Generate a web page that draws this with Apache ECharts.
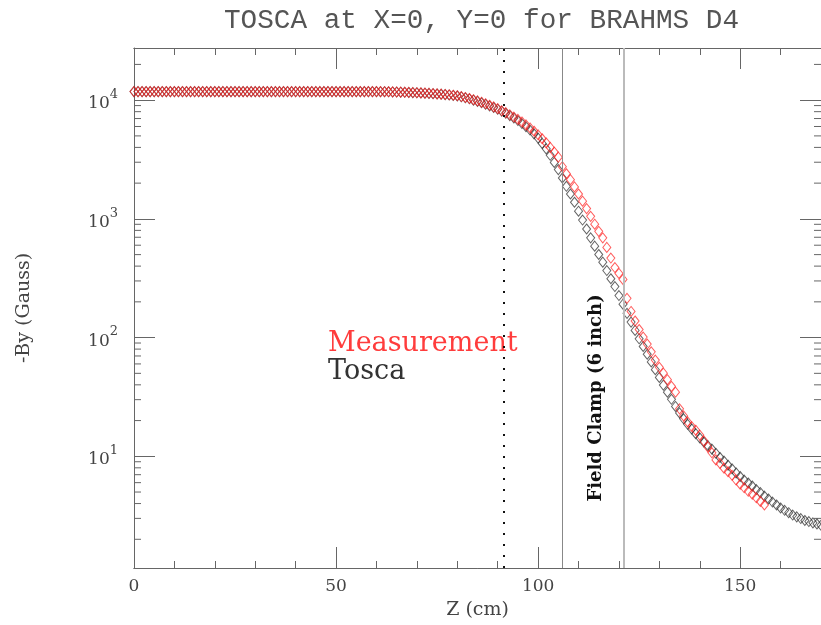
<!DOCTYPE html>
<html><head><meta charset="utf-8">
<script src="https://cdn.jsdelivr.net/npm/echarts@6/dist/echarts.min.js"></script>
<style>html,body{margin:0;padding:0;background:#fff}#c{width:821px;height:625px}</style>
</head><body><div id="c"></div>
<script>
// ---- data ----
const titleText = 'TOSCA at X=0, Y=0 for BRAHMS D4';
const xName = 'Z (cm)';
const yName = '-By (Gauss)';
const yMajorTicks = [10, 100, 1000, 10000];
const yMinorTicks = [2,3,4,5,6,7,8,9, 20,30,40,50,60,70,80,90, 200,300,400,500,600,700,800,900,
  2000,3000,4000,5000,6000,7000,8000,9000, 20000];
const clampLines = [91.4, 105.9, 121.2];
const clampLabel = 'Field Clamp (6 inch)';

const zTosca = [0,1,2,3,4,5,6,7,8,9,10,11,12,13,14,15,16,17,18,19,20,21,22,23,24,25,26,27,28,29,30,
 31,32,33,34,35,36,37,38,39,40,41,42,43,44,45,46,47,48,49,50,51,52,53,54,55,56,57,58,59,60,
 61,62,63,64,65,66,67,68,69,70,71,72,73,74,75,76,77,78,79,80,81,82,83,84,85,86,87,88,89,90,
 91,92,93,94,95,96,97,98,99,100,101,102,103,104,105,106,107,108,109,110,111,112,113,114,115,
 116,117,118,119,120,121,122,123,124,125,126,127,128,129,130,131,132,133,134,135,136,137,138,
 139,140,141,142,143,144,145,146,147,148,149,150,151,152,153,154,155,156,157,158,159,160,161,
 162,163,164,165,166,167,168,169,170];
const byTosca = [11800,11800,11800,11800,11800,11800,11800,11800,11800,11800,11800,
 11800,11800,11800,11800,11800,11800,11800,11800,11800,11800,
 11800,11800,11800,11800,11800,11800,11800,11800,11800,11800,
 11800,11800,11800,11800,11800,11800,11800,11800,11800,11800,
 11800,11800,11800,11800,11800,11800,11800,11800,11800,11800,
 11800,11800,11800,11800,11800,11800,11800,11800,11800,11800,
 11790,11780,11760,11730,11700,11670,11640,11600,11570,11530,
 11490,11450,11400,11340,11270,11210,11140,11060,10960,10840,
 10670,10470,10260,10000,9770,9510,9230,8950,8670,8390,
 8090,7760,7410,7080,6730,6350,5980,5600,5200,4790,
 4320,3890,3430,2990,2600,2210,1880,1620,1380,1160,
 977,822,692,589,501,432,367,313,269,226,
 191,160,135,115,97.7,84.1,72.4,62.4,53.7,46.2,
 39.8,34.7,30.2,26.3,23.2,20.7,18.6,17.0,15.5,14.3,
 13.2,12.3,11.5,10.6,9.77,9.12,8.41,7.85,7.24,6.76,
 6.31,5.96,5.62,5.25,4.95,4.62,4.37,4.12,3.89,3.67,
 3.51,3.35,3.20,3.09,2.99,2.88,2.82,2.75,2.69,2.63];

const zMeas = [0,1,2,3,4,5,6,7,8,9,10,11,12,13,14,15,16,17,18,19,20,21,22,23,24,25,26,27,28,29,30,
 31,32,33,34,35,36,37,38,39,40,41,42,43,44,45,46,47,48,49,50,51,52,53,54,55,56,57,58,59,60,
 61,62,63,64,65,66,67,68,69,70,71,72,73,74,75,76,77,78,79,80,81,82,83,84,85,86,87,88,89,90,
 91,92,93,94,95,96,97,98,99,100,101,102,103,104,105,106,107,108,109,110,111,112,113,114,115,
 116,117,118,119,120,121,122,123,124,125,126,127,128,129,130,131,132,133,134,135,136,137,138,
 139,140,141,142,143,144,145,146,147,148,149,150,151,152,153,154,155,156];
const byMeas = [11800,11800,11800,11800,11800,11800,11800,11800,11800,11800,11800,
 11800,11800,11800,11800,11800,11800,11800,11800,11800,11800,
 11800,11800,11800,11800,11800,11800,11800,11800,11800,11800,
 11800,11800,11800,11800,11800,11800,11800,11800,11800,11800,
 11800,11800,11800,11800,11800,11800,11800,11800,11800,11800,
 11800,11800,11800,11800,11800,11800,11800,11800,11800,11800,
 11800,11790,11770,11750,11720,11690,11660,11630,11590,11550,
 11510,11470,11420,11360,11300,11240,11170,11090,11000,10890,
 10730,10540,10330,10090,9860,9610,9340,9060,8780,8480,
 8130,7850,7530,7210,6890,6550,6190,5830,5470,5110,
 4730,4370,4000,3650,3310,2750,2400,2140,1860,1620,
 1410,1220,1050,902,785,692,575,468,389,347,
 309,214,166,138,117,101,88.1,75.9,64.6,56.2,
 50.1,44.2,38.9,34.7,25.1,21.9,19.5,17.8,16.6,15.1,
 13.5,12.0,10.7,9.33,8.71,7.94,7.41,6.92,6.31,5.82,
 5.43,5.07,4.79,4.47,4.17,3.89];

// ---- chart ----
const X_MIN = 0, X_MAX = 170, Y_MIN = 1.146, Y_MAX = 27500;
const AX = '#666';
const serif = 'DejaVu Serif';

function xAx(pos, interval, len, labels) {
  return {
    type: 'value', min: X_MIN, max: X_MAX, interval: interval, position: pos,
    axisLine: { show: true, onZero: false, lineStyle: { color: AX, width: 1 } },
    axisTick: { show: true, inside: true, length: len, lineStyle: { color: AX, width: 1 } },
    axisLabel: { show: labels, fontFamily: serif, fontSize: 17, color: '#444', margin: 10,
      showMaxLabel: false },
    splitLine: { show: false },
    name: labels ? xName : '', nameLocation: 'middle', nameGap: 33,
    nameTextStyle: { fontFamily: serif, fontSize: 19, color: '#444' }
  };
}
function yAx(pos, labels) {
  return {
    type: 'log', logBase: 10, min: Y_MIN, max: Y_MAX, position: pos,
    axisLine: { show: true, onZero: false, lineStyle: { color: AX, width: 1 } },
    axisTick: { show: true, inside: true, length: 21, lineStyle: { color: AX, width: 1 } },
    axisLabel: {
      show: labels, showMinLabel: false, showMaxLabel: false, margin: 16,
      formatter: function (v) {
        const e = Math.round(Math.log10(v));
        if (yMajorTicks.indexOf(Math.pow(10, e)) < 0 || Math.abs(Math.log10(v) - e) > 1e-6) return '';
        return '{b|10}{s|' + e + '}';
      },
      rich: {
        b: { fontFamily: serif, fontSize: 17, color: '#444', lineHeight: 24, verticalAlign: 'bottom' },
        s: { fontFamily: serif, fontSize: 13, color: '#444', lineHeight: 24, verticalAlign: 'top' }
      }
    },
    splitLine: { show: false },
    name: labels ? yName : '', nameLocation: 'middle', nameGap: 100, nameRotate: 90,
    nameTextStyle: { fontFamily: serif, fontSize: 19, color: '#444' }
  };
}

const chart = echarts.init(document.getElementById('c'), null, { renderer: 'canvas' });
const option = {
  animation: false,
  backgroundColor: '#fff',
  title: {
    text: titleText, left: 219, top: 2,
    textStyle: { fontFamily: 'Liberation Mono', fontSize: 27.7, fontWeight: 'normal', color: '#555' }
  },
  legend: {
    orient: 'vertical', left: 318, top: 325, icon: 'none', itemWidth: 0, itemHeight: 26, itemGap: 1,
    selectedMode: false,
    textStyle: { fontFamily: serif, fontSize: 27, lineHeight: 26 },
    data: [
      { name: 'Measurement', textStyle: { color: '#ff3c3c' } },
      { name: 'Tosca', textStyle: { color: '#333' } }
    ]
  },
  grid: { left: 134, right: -3, top: 48, bottom: 54 },
  xAxis: [xAx('bottom', 50, 21, true), xAx('bottom', 10, 7, false), xAx('top', 50, 21, false), xAx('top', 10, 7, false)],
  yAxis: [yAx('left', true), yAx('right', false)],
  series: [
    {
      name: 'Tosca', type: 'scatter', xAxisIndex: 0, yAxisIndex: 0,
      data: zTosca.map((z, i) => [z, byTosca[i]]),
      symbol: 'diamond', symbolSize: [8, 10],
      itemStyle: { color: 'rgba(0,0,0,0)', borderColor: 'rgba(40,40,40,0.9)', borderWidth: 1 },
      markLine: {
        silent: true, symbol: ['none', 'none'], label: { show: false }, animation: false,
        data: [
          { xAxis: clampLines[0], lineStyle: { type: [2, 9], color: '#111', width: 2 } },
          { xAxis: clampLines[1], lineStyle: { type: 'solid', color: '#888', width: 1 } },
          { xAxis: clampLines[2], lineStyle: { type: 'solid', color: '#bbb', width: 2 } }
        ]
      }
    },
    {
      name: 'Measurement', type: 'scatter', xAxisIndex: 0, yAxisIndex: 0,
      data: zMeas.map((z, i) => [z, byMeas[i]]),
      symbol: 'diamond', symbolSize: [8, 10],
      itemStyle: { color: 'rgba(0,0,0,0)', borderColor: 'rgba(255,30,30,0.9)', borderWidth: 1 }
    },
    {
      name: 'minorTicks', type: 'custom', xAxisIndex: 0, yAxisIndex: 0, silent: true, clip: false,
      data: yMinorTicks.map(v => [X_MIN, v]),
      renderItem: function (params, api) {
        const v = api.value(1);
        const l = api.coord([X_MIN, v]);
        const r = api.coord([X_MAX, v]);
        const st = { stroke: AX, lineWidth: 1 };
        return { type: 'group', children: [
          { type: 'line', shape: { x1: l[0], y1: l[1], x2: l[0] + 7, y2: l[1] }, style: st },
          { type: 'line', shape: { x1: r[0] - 7, y1: r[1], x2: r[0], y2: r[1] }, style: st }
        ] };
      }
    }
  ]
};
chart.setOption(option);
const p = chart.convertToPixel({ gridIndex: 0 }, [114.5, 31]);
chart.setOption({
  graphic: [{
    type: 'text', x: p[0], y: p[1], rotation: Math.PI / 2, silent: true,
    style: { text: clampLabel, font: 'bold 18px "DejaVu Serif"', fill: '#111', align: 'center', verticalAlign: 'middle' }
  }]
});
</script></body></html>
